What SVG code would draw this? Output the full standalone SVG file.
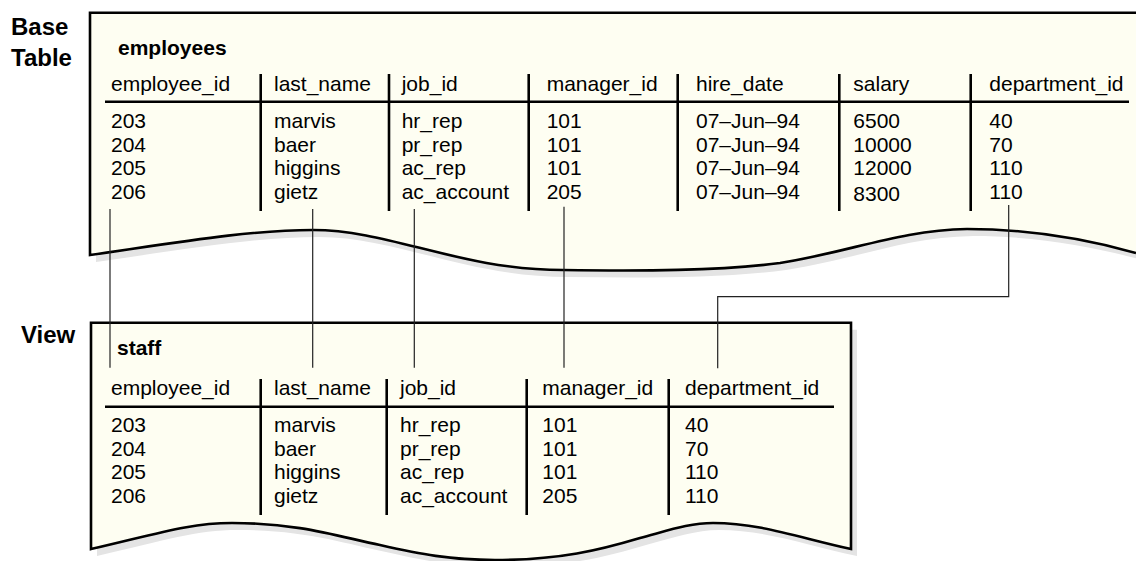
<svg xmlns="http://www.w3.org/2000/svg" width="1136" height="561" viewBox="0 0 1136 561">
<style>
  text { font-family: "Liberation Sans", Arial, Helvetica, sans-serif; fill: #000; }
  .t { font-size: 21px; }
  .b { font-size: 21px; font-weight: bold; }
  .lbl { font-size: 24px; font-weight: bold; }
  .fill { fill: #fefef2; stroke: none; }
  .shadow { fill: #e4e4e4; stroke: none; }
  .border { fill: none; stroke: #000; stroke-width: 2.6; stroke-linejoin: miter; }
  .sep { stroke: #000; stroke-width: 2.6; }
  .conn { fill: none; stroke: #222; stroke-width: 1.2; }
</style>
<g id="labels">
  <text class="lbl" x="11" y="35">Base</text>
  <text class="lbl" x="11" y="66">Table</text>
  <text class="lbl" x="21" y="343">View</text>
</g>
<g id="base-table">
  <path class="shadow" transform="translate(6,7)" d="M90,12.7 L1136,12.7 L1136,253 C1090,240 1030,229 967,229 C900,230 850,252 780,263 C720,271 640,271 563,270 C460,270 390,230 313,230 C250,230 180,242 90,255 Z"/>
  <path class="fill" d="M90,12.7 L1136,12.7 L1136,253 C1090,240 1030,229 967,229 C900,230 850,252 780,263 C720,271 640,271 563,270 C460,270 390,230 313,230 C250,230 180,242 90,255 Z"/>
  <path class="border" d="M1136,12.7 L90,12.7 L90,255 C180,242 250,230 313,230 C390,230 460,270 563,270 C640,271 720,271 780,263 C850,252 900,230 967,229 C1030,229 1090,240 1136,253"/>
  <text class="b" x="118" y="55">employees</text>
  <line class="sep" x1="105" y1="101.7" x2="1129" y2="101.7"/>
  <line class="sep" x1="260.7" y1="74" x2="260.7" y2="211"/>
  <line class="sep" x1="389" y1="74" x2="389" y2="211"/>
  <line class="sep" x1="528.7" y1="74" x2="528.7" y2="211"/>
  <line class="sep" x1="677.7" y1="74" x2="677.7" y2="211"/>
  <line class="sep" x1="839.3" y1="74" x2="839.3" y2="211"/>
  <line class="sep" x1="970.7" y1="74" x2="970.7" y2="211"/>
  <g class="t">
    <text x="111" y="90.7">employee_id</text>
    <text x="274" y="90.7">last_name</text>
    <text x="401.7" y="90.7">job_id</text>
    <text x="546.7" y="90.7">manager_id</text>
    <text x="696" y="90.7">hire_date</text>
    <text x="853.3" y="90.7">salary</text>
    <text x="989.3" y="90.7">department_id</text>

    <text x="111" y="128.3">203</text>
    <text x="111" y="151.7">204</text>
    <text x="111" y="175">205</text>
    <text x="111" y="198.5">206</text>

    <text x="274" y="128.3">marvis</text>
    <text x="274" y="151.7">baer</text>
    <text x="274" y="175">higgins</text>
    <text x="274" y="198.5">gietz</text>

    <text x="401.7" y="128.3">hr_rep</text>
    <text x="401.7" y="151.7">pr_rep</text>
    <text x="401.7" y="175">ac_rep</text>
    <text x="401.7" y="198.5">ac_account</text>

    <text x="546.7" y="128.3">101</text>
    <text x="546.7" y="151.7">101</text>
    <text x="546.7" y="175">101</text>
    <text x="546.7" y="198.5">205</text>

    <text x="696" y="128.3">07–Jun–94</text>
    <text x="696" y="151.7">07–Jun–94</text>
    <text x="696" y="175">07–Jun–94</text>
    <text x="696" y="198.5">07–Jun–94</text>

    <text x="853.3" y="128.3">6500</text>
    <text x="853.3" y="151.7">10000</text>
    <text x="853.3" y="175">12000</text>
    <text x="853.3" y="200.5">8300</text>

    <text x="989.3" y="128.3">40</text>
    <text x="989.3" y="151.7">70</text>
    <text x="989.3" y="175">110</text>
    <text x="989.3" y="198.5">110</text>
  </g>
</g>
<g id="view-table">
  <path class="shadow" transform="translate(6,7)" d="M91,322.7 L851,322.7 L851,549 C800,538 760,523 713,523 C690,523 670,530 640,538 C600,550 560,560 495,560 C450,560 420,554 380,545 C340,537 300,523 232,523 C190,523 160,533 91,549 Z"/>
  <path class="fill" d="M91,322.7 L851,322.7 L851,549 C800,538 760,523 713,523 C690,523 670,530 640,538 C600,550 560,560 495,560 C450,560 420,554 380,545 C340,537 300,523 232,523 C190,523 160,533 91,549 Z"/>
  <path class="border" d="M91,322.7 L851,322.7 L851,549 C800,538 760,523 713,523 C690,523 670,530 640,538 C600,550 560,560 495,560 C450,560 420,554 380,545 C340,537 300,523 232,523 C190,523 160,533 91,549 Z"/>
  <text class="b" x="117" y="355">staff</text>
  <line class="sep" x1="105" y1="406.7" x2="834" y2="406.7"/>
  <line class="sep" x1="260.7" y1="379" x2="260.7" y2="515"/>
  <line class="sep" x1="386.7" y1="379" x2="386.7" y2="515"/>
  <line class="sep" x1="526.7" y1="379" x2="526.7" y2="515"/>
  <line class="sep" x1="668.7" y1="379" x2="668.7" y2="515"/>
  <g class="t">
    <text x="111" y="395">employee_id</text>
    <text x="274" y="395">last_name</text>
    <text x="400" y="395">job_id</text>
    <text x="542.3" y="395">manager_id</text>
    <text x="685" y="395">department_id</text>

    <text x="111" y="432.3">203</text>
    <text x="111" y="455.7">204</text>
    <text x="111" y="479.3">205</text>
    <text x="111" y="503.3">206</text>

    <text x="274" y="432.3">marvis</text>
    <text x="274" y="455.7">baer</text>
    <text x="274" y="479.3">higgins</text>
    <text x="274" y="503.3">gietz</text>

    <text x="400" y="432.3">hr_rep</text>
    <text x="400" y="455.7">pr_rep</text>
    <text x="400" y="479.3">ac_rep</text>
    <text x="400" y="503.3">ac_account</text>

    <text x="542.3" y="432.3">101</text>
    <text x="542.3" y="455.7">101</text>
    <text x="542.3" y="479.3">101</text>
    <text x="542.3" y="503.3">205</text>

    <text x="685" y="432.3">40</text>
    <text x="685" y="455.7">70</text>
    <text x="685" y="479.3">110</text>
    <text x="685" y="503.3">110</text>
  </g>
</g>
<g id="connectors">
  <line class="conn" x1="110" y1="209" x2="110" y2="367.7"/>
  <line class="conn" x1="312.7" y1="209" x2="312.7" y2="367.7"/>
  <line class="conn" x1="414.3" y1="209" x2="414.3" y2="367.7"/>
  <line class="conn" x1="564" y1="206.7" x2="564" y2="367.7"/>
  <polyline class="conn" points="1008.7,205 1008.7,296.7 717.7,296.7 717.7,368.3"/>
</g>
</svg>
